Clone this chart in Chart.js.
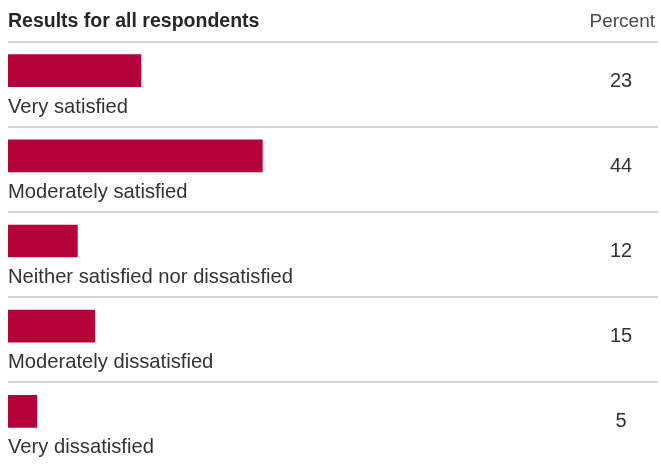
<!DOCTYPE html>
<html>
<head>
<meta charset="utf-8">
<script src="https://cdn.jsdelivr.net/npm/chart.js@4"></script>
<style>
  html, body { margin: 0; padding: 0; background: #fff; }
  #wrap { width: 661px; height: 465px; position: relative; }
</style>
</head>
<body>
<div id="wrap"><canvas id="resultsChart"></canvas></div>
<script>
var categories = ['Very satisfied', 'Moderately satisfied', 'Neither satisfied nor dissatisfied', 'Moderately dissatisfied', 'Very dissatisfied'];
var percents = [23, 44, 12, 15, 5];
var headerTitle = 'Results for all respondents';
var headerUnit = 'Percent';

var FONT = '"Liberation Sans", Arial, sans-serif';
var BAR_COLOR = '#b4023a';

// header, row rules, labels under each bar and the value column on the right
var rowText = {
    id: 'rowText',
    afterDatasetsDraw: function (chart) {
        var ctx = chart.ctx;
        var yScale = chart.scales.y;
        var area = chart.chartArea;
        ctx.save();

        ctx.textBaseline = 'alphabetic';
        ctx.fillStyle = '#262626';
        ctx.font = 'bold 19.5px ' + FONT;
        ctx.textAlign = 'left';
        ctx.fillText(headerTitle, area.left, 27);

        ctx.fillStyle = '#4a4a4a';
        ctx.font = '19px ' + FONT;
        ctx.textAlign = 'right';
        ctx.fillText(headerUnit, 655, 27);

        ctx.strokeStyle = '#d4d4d4';
        ctx.lineWidth = 2;
        categories.forEach(function (label, i) {
            var cy = yScale.getPixelForValue(i);

            ctx.beginPath();
            ctx.moveTo(area.left, Math.round(cy - 29));
            ctx.lineTo(658, Math.round(cy - 29));
            ctx.stroke();

            ctx.fillStyle = '#333';
            ctx.font = '20.2px ' + FONT;
            ctx.textAlign = 'left';
            ctx.fillText(label, area.left, cy + 42);

            ctx.font = '20px ' + FONT;
            ctx.textAlign = 'center';
            ctx.fillText(String(percents[i]), 621, cy + 16);
        });
        ctx.restore();
    }
};

new Chart(document.getElementById('resultsChart'), {
    type: 'bar',
    data: {
        labels: categories,
        datasets: [{
            label: headerUnit,
            data: percents,
            backgroundColor: BAR_COLOR,
            borderWidth: 0,
            barThickness: 32
        }]
    },
    options: {
        indexAxis: 'y',
        responsive: true,
        maintainAspectRatio: false,
        animation: false,
        layout: {
            padding: { left: 8, right: 75, top: 28, bottom: 11 }
        },
        scales: {
            x: { display: false, min: 0, max: 100 },
            y: { display: false }
        },
        plugins: {
            legend: { display: false },
            tooltip: { enabled: false }
        }
    },
    plugins: [rowText]
});
</script>
</body>
</html>
